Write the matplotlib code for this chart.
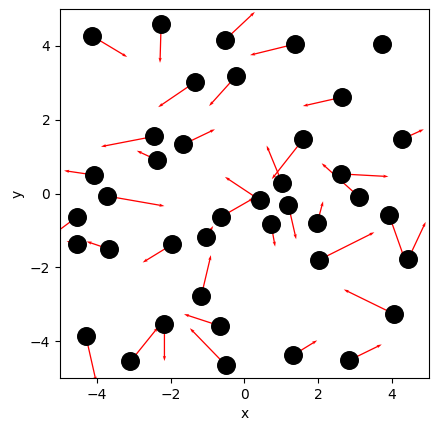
import numpy as np
import matplotlib
matplotlib.use('Agg')
import matplotlib.pyplot as plt

# point positions
x = np.array([-4.13, -2.26, -0.53, 1.37, 3.73, -1.34, -0.23, 2.64, -2.44, -1.66,
              -2.36, -4.07, 1.59, 4.27, 2.62, 3.10, -3.72, 1.02, -4.55, -0.63,
              0.42, 1.19, 3.92, 0.72, 1.97, -1.04, -1.96, -4.53, -3.66, 2.02,
              4.44, -1.17, 4.06, -2.17, -0.66, -4.30, -3.09, -0.51, 1.32, 2.84])
y = np.array([4.27, 4.59, 4.16, 4.05, 4.05, 3.02, 3.18, 2.61, 1.55, 1.33,
              0.90, 0.50, 1.47, 1.47, 0.53, -0.09, -0.07, 0.28, -0.64, -0.63,
              -0.18, -0.32, -0.59, -0.83, -0.80, -1.19, -1.38, -1.37, -1.51, -1.80,
              -1.77, -2.77, -3.27, -3.54, -3.59, -3.86, -4.55, -4.65, -4.38, -4.52])
# arrow tips
xt = np.array([-3.18, -2.29, 0.28, 0.15, 3.97, -2.34, -0.96, 1.58, -3.89, -0.80,
               -2.92, -4.89, 0.74, 4.86, 3.90, 2.09, -2.17, 0.60, -5.10, 0.26,
               -0.53, 1.40, 4.32, 0.83, 2.13, -0.85, -2.76, -4.82, -4.28, 3.52,
               4.91, -0.91, 2.69, -2.17, -1.64, -4.02, -2.34, -1.48, 1.97, 3.72])
yt = np.array([3.70, 3.54, 4.92, 3.75, 3.93, 2.34, 2.37, 2.37, 1.27, 1.74,
               1.16, 0.62, 0.39, 1.74, 0.46, 0.82, -0.34, 1.30, -1.05, -0.12,
               0.45, -1.24, -1.72, -1.44, -0.21, -0.88, -1.87, -1.29, -1.30, -1.05,
               -0.77, -1.67, -2.60, -4.54, -3.27, -5.10, -3.62, -3.65, -3.98, -4.09])

u = xt - x
v = yt - y

fig = plt.figure(figsize=(4.39, 4.32), dpi=100)
ax = fig.add_axes([60/439, 1-378/432, 369/439, 369/432])
ax.quiver(x, y, u, v, angles='xy', scale_units='xy', scale=1, color='r',
          width=0.0035, headwidth=2.5, headlength=4, headaxislength=3.5, zorder=1)
ax.scatter(x, y, s=160, c='k', zorder=2)
ax.set_xlim(-5, 5)
ax.set_ylim(-5, 5)
ax.set_xticks([-4, -2, 0, 2, 4])
ax.set_yticks([-4, -2, 0, 2, 4])
ax.set_xlabel('x')
ax.set_ylabel('y')

plt.savefig('out.png', dpi=100)
